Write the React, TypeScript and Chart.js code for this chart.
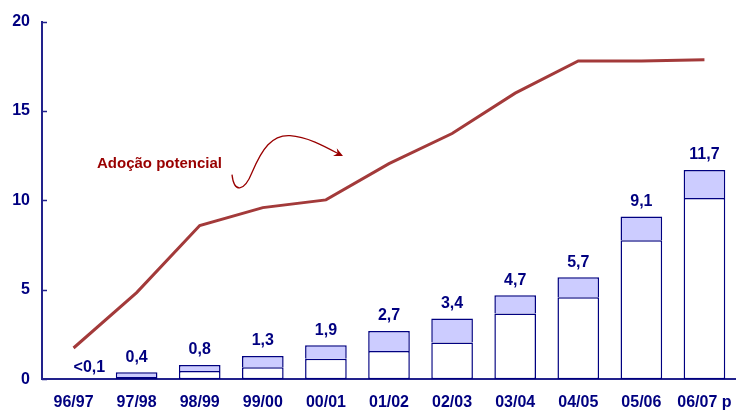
import React, { useEffect, useRef } from "react";
import { Chart, registerables } from "chart.js";

Chart.register(...registerables);

// Safra labels (crop years)
const categories = ["96/97", "97/98", "98/99", "99/00", "00/01", "01/02", "02/03", "03/04", "04/05", "05/06", "06/07 p"];

// Total area per season (stacked bar height) and its printed label
const totals = [0, 0.4, 0.8, 1.3, 1.9, 2.7, 3.4, 4.7, 5.7, 9.1, 11.7];
const totalLabels = ["<0,1", "0,4", "0,8", "1,3", "1,9", "2,7", "3,4", "4,7", "5,7", "9,1", "11,7"];

// Lower (white) portion of each bar
const baseValues = [0, 0.13, 0.46, 0.67, 1.15, 1.58, 2.06, 3.68, 4.59, 7.77, 10.14];

// Potential adoption curve
const potential = [1.75, 4.85, 8.6, 9.6, 10.03, 12.06, 13.74, 16.0, 17.8, 17.8, 17.87];

// Y axis
const yTicks = [0, 5, 10, 15, 20];

const NAVY = "#000080";
const AXIS = "#22228c";
const LINE_RED = "#a33a3a";
const LABEL_RED = "#990000";
const FONT = "'Liberation Sans', Arial, sans-serif";

const upperValues = totals.map((t, i) => Math.max(0, +(t - baseValues[i]).toFixed(2)));

const decorPlugin = {
  id: "decor",
  afterDatasetsDraw(chart: any) {
    const { ctx, chartArea, scales } = chart;
    const ys = scales.y;
    const meta = chart.getDatasetMeta(1);

    ctx.save();
    // inward tick marks on the value axis
    ctx.strokeStyle = AXIS;
    ctx.lineWidth = 1.5;
    yTicks.forEach((v) => {
      const py = Math.round(ys.getPixelForValue(v)) + 0.5;
      ctx.beginPath();
      ctx.moveTo(chartArea.left, py);
      ctx.lineTo(chartArea.left + 5, py);
      ctx.stroke();
    });

    // totals above bars
    ctx.fillStyle = NAVY;
    ctx.font = `bold 16px ${FONT}`;
    ctx.textBaseline = "middle";
    totals.forEach((t, i) => {
      const bar = meta.data[i];
      const py = ys.getPixelForValue(t) - 15;
      if (t === 0) {
        ctx.textAlign = "left";
        ctx.fillText(totalLabels[i], bar.x, py + 3);
      } else {
        ctx.textAlign = "center";
        ctx.fillText(totalLabels[i], bar.x, py);
      }
    });

    // annotation text and curved arrow
    const L = chartArea.left;
    const T = chartArea.top;
    ctx.fillStyle = LABEL_RED;
    ctx.font = `bold 15px ${FONT}`;
    ctx.textAlign = "left";
    ctx.textBaseline = "middle";
    ctx.fillText("Adoção potencial", L + 55, T + 142);

    ctx.strokeStyle = LABEL_RED;
    ctx.lineWidth = 1.3;
    ctx.beginPath();
    ctx.moveTo(L + 190, T + 153);
    ctx.bezierCurveTo(L + 192, T + 171, L + 202, T + 171, L + 210, T + 151);
    ctx.bezierCurveTo(L + 220, T + 127, L + 230, T + 113, L + 248, T + 114);
    ctx.bezierCurveTo(L + 266, T + 115, L + 285, T + 126, L + 298, T + 133);
    ctx.stroke();
    // arrow head
    const tipX = L + 301, tipY = T + 134.5;
    const ang = Math.atan2(0.48, 1);
    ctx.fillStyle = LABEL_RED;
    ctx.beginPath();
    ctx.moveTo(tipX, tipY);
    ctx.lineTo(tipX - 10 * Math.cos(ang - 0.45), tipY - 10 * Math.sin(ang - 0.45));
    ctx.lineTo(tipX - 6 * Math.cos(ang), tipY - 6 * Math.sin(ang));
    ctx.lineTo(tipX - 10 * Math.cos(ang + 0.45), tipY - 10 * Math.sin(ang + 0.45));
    ctx.closePath();
    ctx.fill();
    ctx.restore();
  },
};

export default function App() {
  const ref = useRef<HTMLCanvasElement | null>(null);

  useEffect(() => {
    document.body.style.margin = "0";
    if (!ref.current) return;
    const chart = new Chart(ref.current, {
      type: "bar",
      data: {
        labels: categories,
        datasets: [
          {
            type: "bar",
            data: baseValues,
            backgroundColor: "#ffffff",
            borderColor: NAVY,
            borderWidth: 1.5,
            borderSkipped: false,
            stack: "s",
            barPercentage: 0.66,
            categoryPercentage: 1,
            order: 2,
          },
          {
            type: "bar",
            data: upperValues,
            backgroundColor: "#ccccff",
            borderColor: NAVY,
            borderWidth: 1.5,
            borderSkipped: "bottom",
            stack: "s",
            barPercentage: 0.66,
            categoryPercentage: 1,
            order: 2,
          },
          {
            type: "line",
            data: potential,
            borderColor: LINE_RED,
            borderWidth: 3,
            pointRadius: 0,
            tension: 0,
            fill: false,
            order: 1,
          } as any,
        ],
      },
      options: {
        responsive: false,
        animation: false,
        layout: { padding: { top: 21, right: -3, left: 0, bottom: 0 } },
        plugins: { legend: { display: false }, tooltip: { enabled: false } },
        scales: {
          x: {
            stacked: true,
            offset: true,
            grid: { display: false, drawTicks: false },
            border: { display: true, color: AXIS, width: 2 },
            ticks: {
              color: NAVY,
              font: { family: FONT, size: 16, weight: "bold" },
              padding: 14,
              maxRotation: 0,
              autoSkip: false,
            },
            afterFit: (s: any) => {
              s.height = 30.7;
              s.paddingLeft = 0;
              s.paddingRight = 0;
            },
          },
          y: {
            stacked: true,
            min: 0,
            max: 20,
            afterBuildTicks: (s: any) => {
              s.ticks = yTicks.map((v) => ({ value: v }));
            },
            grid: { display: false, drawTicks: false },
            border: { display: true, color: AXIS, width: 2 },
            ticks: {
              color: NAVY,
              font: { family: FONT, size: 16, weight: "bold" },
              padding: 12,
            },
            afterFit: (s: any) => {
              s.width = 42;
            },
          },
        },
      },
      plugins: [decorPlugin],
    });
    return () => chart.destroy();
  }, []);

  return (
    <div style={{ width: 736, height: 410 }}>
      <canvas ref={ref} width={736} height={410} />
    </div>
  );
}
